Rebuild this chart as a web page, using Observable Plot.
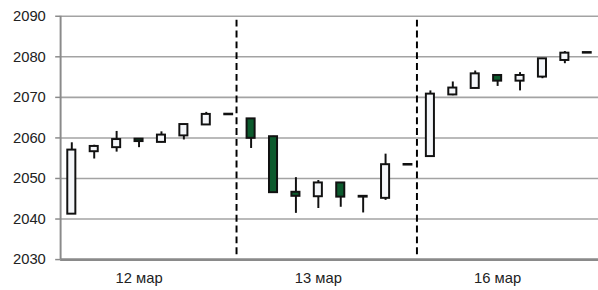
<!DOCTYPE html>
<html>
<head>
<meta charset="utf-8">
<script src="https://cdn.jsdelivr.net/npm/d3@7"></script>
<script src="https://cdn.jsdelivr.net/npm/@observablehq/plot@0.6"></script>
<style>
  html, body { margin: 0; padding: 0; background: #fff; overflow: hidden; }
  #chart { width: 598px; height: 290px; overflow: hidden; }
</style>
</head>
<body>
<div id="chart"></div>
<script>
// Candle data (index order)
const opens  = [2041.2, 2056.6, 2057.6, 2059.7, 2058.9, 2060.5, 2063.2, 2065.9,
                2064.7, 2060.3, 2046.6, 2045.5, 2048.9, 2045.6, 2045.1, 2053.5,
                2055.4, 2070.6, 2072.2, 2075.4, 2074.0, 2075.0, 2079.1, 2081.1];
const highs  = [2058.8, 2058.2, 2061.6, 2059.8, 2061.5, 2063.4, 2066.3, 2065.9,
                2064.7, 2060.4, 2050.2, 2049.5, 2048.9, 2045.6, 2056.0, 2053.5,
                2071.6, 2073.8, 2076.5, 2075.5, 2076.1, 2079.6, 2081.3, 2081.1];
const lows   = [2041.2, 2054.8, 2056.5, 2057.6, 2058.8, 2059.5, 2063.2, 2065.9,
                2057.4, 2046.5, 2041.4, 2042.6, 2042.9, 2041.5, 2044.6, 2053.5,
                2055.4, 2070.4, 2072.1, 2072.7, 2071.6, 2074.6, 2078.3, 2081.1];
const closes = [2057.0, 2057.9, 2059.6, 2059.1, 2060.7, 2063.3, 2065.8, 2065.9,
                2059.9, 2046.5, 2045.6, 2048.9, 2045.4, 2045.4, 2053.4, 2053.5,
                2070.8, 2072.3, 2075.8, 2074.0, 2075.4, 2079.5, 2080.9, 2081.1];

// Axis labels
const dayLabels = ["12 мар", "13 мар", "16 мар"];
const dayLabelIndex = [3, 11, 19];
const dayBreaks = [7.35, 15.4];
const yTicks = [2030, 2040, 2050, 2060, 2070, 2080, 2090];

const candles = opens.map((o, i) => ({
  i, open: o, high: highs[i], low: lows[i], close: closes[i]
}));
const xDomain = [-0.5, candles.length - 0.5];

const gridColor = "#a3a3a3";
const axisColor = "#8a8a8a";
const upFill = "#f4f6f9";
const downFill = "#0c5a2d";

const chart = Plot.plot({
  width: 607,
  height: 290,
  marginLeft: 61,
  marginRight: 0,
  marginTop: 16,
  marginBottom: 27,
  x: { domain: xDomain },
  y: { domain: [yTicks[0], yTicks[yTicks.length - 1]] },
  style: { fontFamily: "'Liberation Sans', Arial, sans-serif", fontSize: "15px", color: "#222", background: "#fff" },
  marks: [
    Plot.ruleY(yTicks.slice(1), { stroke: gridColor, strokeWidth: 1.6 }),
    Plot.ruleY([yTicks[0]], { stroke: axisColor, strokeWidth: 2.8 }),
    Plot.ruleX([xDomain[0]], { stroke: axisColor, strokeWidth: 2 }),
    Plot.axisY({ ticks: yTicks, tickSize: 5, tickPadding: 10, tickFormat: d => String(d), stroke: axisColor, strokeWidth: 1.5, label: null }),
    Plot.axisX({ ticks: dayLabelIndex, tickSize: 0, tickPadding: 13, tickFormat: i => dayLabels[dayLabelIndex.indexOf(i)], label: null }),
    Plot.ruleX(dayBreaks, { stroke: "#000", strokeWidth: 2, strokeDasharray: "7,4", insetTop: 4, insetBottom: 4 }),
    Plot.ruleX(candles, { x: "i", y1: "low", y2: "high", stroke: "#111", strokeWidth: 2 }),
    Plot.rect(candles.filter(d => d.open !== d.close), {
      x1: d => d.i - 0.18,
      x2: d => d.i + 0.18,
      y1: "open",
      y2: "close",
      fill: d => d.close > d.open ? upFill : downFill,
      stroke: "#111",
      strokeWidth: 2
    }),
    Plot.ruleY(candles.filter(d => d.open === d.close), {
      y: "open",
      x1: d => d.i - 0.22,
      x2: d => d.i + 0.22,
      stroke: "#111",
      strokeWidth: 2.6
    })
  ]
});
document.getElementById("chart").appendChild(chart);
</script>
</body>
</html>
